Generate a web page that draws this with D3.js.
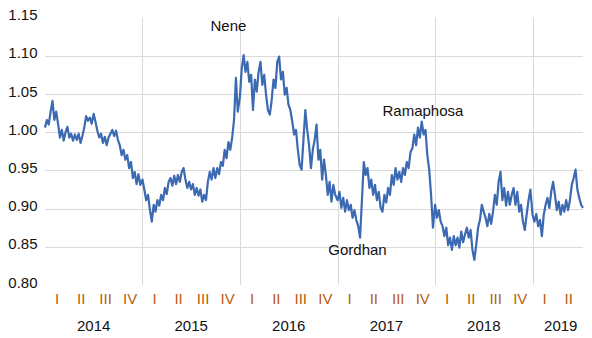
<!DOCTYPE html>
<html><head><meta charset="utf-8">
<script src="https://cdn.jsdelivr.net/npm/d3@7"></script>
<style>
html,body{margin:0;padding:0;background:#fff;}
svg{display:block;font-family:"Liberation Sans",Arial,sans-serif;}
</style></head>
<body><svg id="chart" width="592" height="338"></svg>
<script>
const v2014 = [1.006,1.016,1.010,1.027,1.041,1.016,1.027,1.011,0.993,1.003,0.989,1.000,1.007,0.993,0.998,0.989,0.997,0.990,0.998,0.986,0.995,1.006,1.021,1.015,1.019,1.011,1.024,1.014,1.002,0.993,0.998,0.986,0.994,0.983,0.993,0.998,1.003,0.995,1.002,0.990,0.983,0.970,0.977,0.964,0.970,0.953,0.961,0.940,0.948,0.932,0.945,0.931];
const v2015 = [0.938,0.925,0.911,0.918,0.898,0.883,0.905,0.896,0.911,0.904,0.918,0.911,0.927,0.919,0.935,0.940,0.930,0.943,0.932,0.944,0.935,0.948,0.953,0.938,0.927,0.935,0.925,0.932,0.918,0.927,0.917,0.925,0.909,0.918,0.911,0.935,0.948,0.938,0.953,0.940,0.953,0.945,0.961,0.956,0.977,0.966,0.987,0.977,0.993,1.016,1.071,1.027];
const v2016 = [1.046,1.084,1.101,1.079,1.092,1.066,1.075,1.029,1.069,1.053,1.079,1.092,1.062,1.075,1.049,1.029,1.023,1.042,1.069,1.058,1.092,1.099,1.069,1.079,1.049,1.058,1.036,1.029,1.014,0.997,1.003,0.977,0.957,0.951,0.990,1.029,1.003,0.983,0.953,0.977,0.990,1.010,0.964,0.977,0.938,0.964,0.944,0.918,0.935,0.909,0.931,0.918];
const v2017 = [0.911,0.922,0.901,0.914,0.896,0.911,0.898,0.905,0.888,0.898,0.885,0.877,0.862,0.911,0.961,0.944,0.953,0.927,0.938,0.918,0.931,0.911,0.922,0.901,0.896,0.918,0.908,0.927,0.918,0.944,0.931,0.953,0.938,0.948,0.935,0.953,0.944,0.961,0.953,0.974,0.979,0.997,0.983,1.006,0.993,1.014,0.997,1.003,0.970,0.951,0.918,0.875];
const v2018 = [0.905,0.888,0.898,0.883,0.877,0.864,0.875,0.852,0.862,0.846,0.864,0.852,0.862,0.849,0.870,0.856,0.866,0.875,0.862,0.872,0.846,0.833,0.852,0.875,0.885,0.905,0.896,0.888,0.877,0.893,0.880,0.896,0.918,0.905,0.935,0.948,0.911,0.927,0.904,0.922,0.905,0.918,0.927,0.905,0.922,0.896,0.905,0.883,0.872,0.892,0.911,0.925];
const v2019 = [0.892,0.883,0.893,0.877,0.885,0.864,0.892,0.905,0.914,0.901,0.922,0.935,0.918,0.898,0.909,0.892,0.905,0.896,0.911,0.898,0.911,0.931,0.940,0.951,0.925,0.914,0.905,0.901];

const years = [2014, 2015, 2016, 2017, 2018, 2019];
const yearValues = [v2014, v2015, v2016, v2017, v2018, v2019];
const quarterLabels = ["I", "II", "III", "IV"];
const quarterCount = [4, 4, 4, 4, 4, 2];
const yTicks = [0.80, 0.85, 0.90, 0.95, 1.00, 1.05, 1.10, 1.15];
const gridTicks = [0.85, 0.90, 0.95, 1.00, 1.05, 1.10];
const events = [
  {label: "Nene", date: "2015-09-13", value: 1.1325},
  {label: "Ramaphosa", date: "2017-06-18", value: 1.0212},
  {label: "Gordhan", date: "2016-11-27", value: 0.8393}
];

const series = [];
years.forEach((yr, k) => {
  yearValues[k].forEach((v, i) => {
    series.push({date: d3.timeDay.offset(new Date(yr, 0, 1), i * 7), value: v});
  });
});

const svg = d3.select("#chart");
const startDate = new Date(2014, 0, 1);
const endDate = new Date(2019, 6, 9);
const x = d3.scaleTime().domain([startDate, endDate]).range([45, 583]);
const y = d3.scaleLinear().domain([0.80, 1.15]).range([285, 17.6]);

// horizontal gridlines
svg.append("g").selectAll("line").data(gridTicks).join("line")
  .attr("x1", 45).attr("x2", 583)
  .attr("y1", d => Math.round(y(d)) + 0.5).attr("y2", d => Math.round(y(d)) + 0.5)
  .attr("stroke", "#d9d9d9").attr("stroke-width", 1);

// vertical gridlines at year boundaries
svg.append("g").selectAll("line").data(years.slice(1)).join("line")
  .attr("x1", d => Math.round(x(new Date(d, 0, 1))) + 0.5)
  .attr("x2", d => Math.round(x(new Date(d, 0, 1))) + 0.5)
  .attr("y1", y(1.15)).attr("y2", y(0.80))
  .attr("stroke", "#d9d9d9").attr("stroke-width", 1);

// y tick labels
svg.append("g").selectAll("text").data(yTicks).join("text")
  .attr("x", 37.5).attr("y", d => y(d) + 2.6)
  .attr("text-anchor", "end")
  .attr("font-size", 15).attr("fill", "#111")
  .text(d => d3.format(".2f")(d));

// quarter labels
const qData = [];
years.forEach((yr, k) => {
  for (let q = 0; q < quarterCount[k]; q++) {
    const a = new Date(yr, q * 3, 1), b = new Date(yr, q * 3 + 3, 1);
    qData.push({label: quarterLabels[q], date: new Date((+a + +b) / 2)});
  }
});
svg.append("g").selectAll("text").data(qData).join("text")
  .attr("x", d => x(d.date)).attr("y", 303.5)
  .attr("text-anchor", "middle")
  .attr("font-size", 15).attr("fill", "#b85c10")
  .text(d => d.label);

// year labels
svg.append("g").selectAll("text").data(years).join("text")
  .attr("x", d => {
    const a = new Date(d, 0, 1);
    const b = d3.min([new Date(d + 1, 0, 1), endDate]);
    return (x(a) + x(b)) / 2 + (d === 2019 ? 3 : 0);
  })
  .attr("y", 331)
  .attr("text-anchor", "middle")
  .attr("font-size", 15).attr("fill", "#111")
  .text(d => d);

// series line
const line = d3.line().x(d => x(d.date)).y(d => y(d.value));
svg.append("path").datum(series)
  .attr("d", line)
  .attr("fill", "none")
  .attr("stroke", "#3b69b2")
  .attr("stroke-width", 2.2)
  .attr("stroke-linejoin", "round");

// event annotations
const parse = d3.timeParse("%Y-%m-%d");
svg.append("g").selectAll("text").data(events).join("text")
  .attr("x", d => x(parse(d.date))).attr("y", d => y(d.value))
  .attr("font-size", 15).attr("fill", "#111")
  .text(d => d.label);
</script>
</body></html>
